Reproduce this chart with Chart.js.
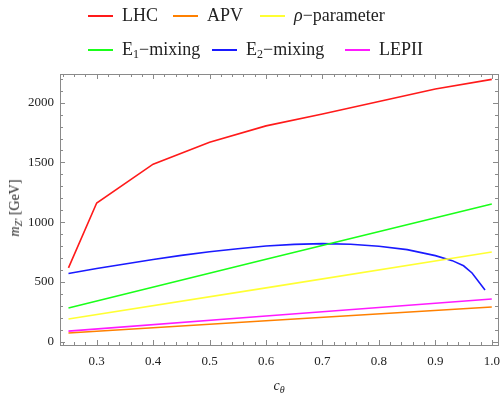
<!DOCTYPE html>
<html>
<head>
<meta charset="utf-8">
<script src="https://cdn.jsdelivr.net/npm/chart.js@4/dist/chart.umd.min.js"></script>
<style>
  body { margin: 0; background: #fff; }
  #wrap { position: relative; width: 500px; height: 397px; font-family: "Liberation Serif", "DejaVu Serif", serif; }
  canvas { position: absolute; left: 0; top: 0; }
  .leg { position: absolute; font-size: 18px; color: #222; white-space: nowrap; line-height: 18px; }
  .leg span.sw { display: inline-block; width: 25px; height: 2px; vertical-align: middle; margin-right: 9px; position: relative; top: -1px; }
  .leg sub { font-size: 12px; vertical-align: -3px; line-height: 0; }
  #ytitle { position: absolute; left: 15px; top: 208px; transform: translate(-50%, -50%) rotate(-90deg); font-size: 14px; white-space: nowrap; color: #222; }
  #ytitle sub { font-size: 10px; vertical-align: -3px; line-height: 0; }
  #xtitle { position: absolute; left: 279px; top: 386px; transform: translate(-50%, -50%); font-size: 14px; color: #222; }
  #xtitle sub { font-size: 10px; vertical-align: -3px; line-height: 0; }
</style>
</head>
<body>
<div id="wrap">
  <canvas id="grafico" width="500" height="397"></canvas>
  <div class="leg" style="left:88px; top:6px;"><span class="sw" style="background:#ff1a1a"></span>LHC</div>
  <div class="leg" style="left:173px; top:6px;"><span class="sw" style="background:#ff8000"></span>APV</div>
  <div class="leg" style="left:260px; top:6px;"><span class="sw" style="background:#ffff33"></span><i>ρ</i>−parameter</div>
  <div class="leg" style="left:88px; top:40px;"><span class="sw" style="background:#1aff1a"></span>E<sub>1</sub>−mixing</div>
  <div class="leg" style="left:212px; top:40px;"><span class="sw" style="background:#1a1aff"></span>E<sub>2</sub>−mixing</div>
  <div class="leg" style="left:345px; top:40px;"><span class="sw" style="background:#ff1aff"></span>LEPII</div>
  <div id="ytitle"><i>m</i><sub><i>Z′</i></sub> [GeV]</div>
  <div id="xtitle"><i>c</i><sub><i>θ</i></sub></div>
</div>
<script>
// valores
const cTheta = [0.25, 0.3, 0.4, 0.5, 0.6, 0.7, 0.8, 0.9, 1.0];
const lhc = [617, 1160, 1485, 1668, 1806, 1905, 2010, 2115, 2195];

const linX = [0.25, 0.6, 1.0];
const apv = [73, 175, 290];
const rho = [190, 450, 750];
const e1Mixing = [282, 690, 1152];
const lepII = [88, 215, 357];

const e2X = [0.25, 0.3, 0.35, 0.4, 0.45, 0.5, 0.55, 0.6, 0.65, 0.7, 0.75, 0.8, 0.85, 0.9, 0.93, 0.95, 0.965, 0.988];
const e2Mixing = [570, 612, 650, 688, 722, 752, 778, 800, 814, 820, 815, 798, 770, 720, 678, 635, 575, 432];

const xTicks = [0.3, 0.4, 0.5, 0.6, 0.7, 0.8, 0.9, 1.0];
const yTicks = [0, 500, 1000, 1500, 2000];

const pares = (xs, ys) => xs.map((x, i) => ({ x: x, y: ys[i] }));

const serie = (label, xs, ys, cor) => ({
  label: label,
  data: pares(xs, ys),
  borderColor: cor,
  borderWidth: 1.6,
  pointRadius: 0,
  tension: 0,
  fill: false,
});

//Moldura com marcas para dentro, estilo Mathematica
const moldura = {
  id: "moldura",
  afterDraw(chart) {
    const { ctx, chartArea: a, scales } = chart;
    const sx = scales.x, sy = scales.y;
    ctx.save();
    ctx.strokeStyle = "#8a8a8a";
    ctx.lineWidth = 1;
    ctx.strokeRect(a.left + 0.5, a.top + 0.5, a.right - a.left, a.bottom - a.top);
    ctx.beginPath();
    for (let v = 0.24; v <= 1.011; v += 0.02) {
      const px = Math.round(sx.getPixelForValue(v)) + 0.5;
      const major = xTicks.some((t) => Math.abs(t - v) < 1e-6);
      const len = major ? 5 : 3;
      ctx.moveTo(px, a.bottom);
      ctx.lineTo(px, a.bottom - len);
      ctx.moveTo(px, a.top);
      ctx.lineTo(px, a.top + len);
    }
    for (let v = 0; v <= 2200; v += 100) {
      const py = Math.round(sy.getPixelForValue(v)) + 0.5;
      const major = v % 500 === 0;
      const len = major ? 5 : 3;
      ctx.moveTo(a.left, py);
      ctx.lineTo(a.left + len, py);
      ctx.moveTo(a.right, py);
      ctx.lineTo(a.right - len, py);
    }
    ctx.stroke();
    ctx.restore();
  },
};

const fonteTick = { family: "'Liberation Serif', serif", size: 13 };

new Chart(document.getElementById("grafico"), {
  type: "line",
  data: {
    datasets: [
      serie("LHC", cTheta, lhc, "#ff1a1a"),
      serie("APV", linX, apv, "#ff8000"),
      serie("ρ-parameter", linX, rho, "#ffff33"),
      serie("E1-mixing", linX, e1Mixing, "#1aff1a"),
      serie("E2-mixing", e2X, e2Mixing, "#1a1aff"),
      serie("LEPII", linX, lepII, "#ff1aff"),
    ],
  },
  options: {
    responsive: false,
    animation: false,
    layout: { padding: { top: 74, right: 2, left: 0, bottom: 0 } },
    plugins: { legend: { display: false }, tooltip: { enabled: false } },
    scales: {
      x: {
        type: "linear",
        min: 0.235,
        max: 1.011,
        grid: { display: false, drawTicks: false },
        border: { display: false },
        ticks: {
          color: "#222",
          font: fonteTick,
          padding: 9,
          maxRotation: 0,
          callback: (v) => Number(v).toFixed(1),
        },
        afterBuildTicks: (s) => {
          s.ticks = xTicks.map((v) => ({ value: v }));
        },
        afterFit: (s) => {
          s.height = 52;
          s.paddingLeft = 0;
          s.paddingRight = 0;
        },
      },
      y: {
        type: "linear",
        min: -28,
        max: 2240,
        grid: { display: false, drawTicks: false },
        border: { display: false },
        ticks: { color: "#222", font: fonteTick, padding: 6, callback: (v) => String(v) },
        afterBuildTicks: (s) => {
          s.ticks = yTicks.map((v) => ({ value: v }));
        },
        afterFit: (s) => {
          s.width = 60;
          s.paddingTop = 0;
          s.paddingBottom = 0;
        },
      },
    },
  },
  plugins: [moldura],
});
</script>
</body>
</html>
